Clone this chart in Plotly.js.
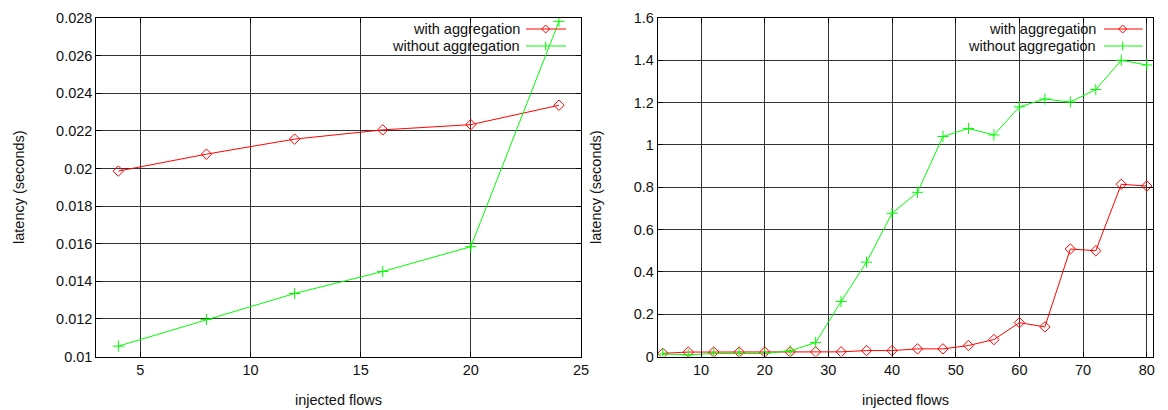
<!DOCTYPE html>
<html>
<head>
<meta charset="utf-8">
<script src="https://cdn.plot.ly/plotly-3.0.1.min.js"></script>
<style>html,body{margin:0;padding:0;background:#fff;}#chart{width:1168px;height:410px;}</style>
</head>
<body>
<div id="chart"></div>
<script>
// ---- Data: left panel ----
var leftFlows = [4, 8, 12, 16, 20, 24];
var leftWith = [0.01986, 0.02076, 0.02156, 0.02205, 0.02233, 0.02336];
var leftWithout = [0.01055, 0.01197, 0.01335, 0.01452, 0.01584, 0.02782];

// ---- Data: right panel ----
var rightFlows = [4, 8, 12, 16, 20, 24, 28, 32, 36, 40, 44, 48, 52, 56, 60, 64, 68, 72, 76, 80];
var rightWith = [0.015, 0.021, 0.021, 0.021, 0.021, 0.022, 0.022, 0.022, 0.028, 0.028,
                 0.036, 0.036, 0.052, 0.080, 0.160, 0.140, 0.508, 0.500, 0.814, 0.806];
var rightWithout = [0.012, 0.008, 0.014, 0.014, 0.014, 0.027, 0.066, 0.260, 0.446, 0.677,
                    0.776, 1.040, 1.078, 1.047, 1.180, 1.217, 1.203, 1.262, 1.400, 1.378];

// ---- Tick labels ----
var leftXTicks = [5, 10, 15, 20, 25];
var leftYTicks = [0.01, 0.012, 0.014, 0.016, 0.018, 0.02, 0.022, 0.024, 0.026, 0.028];
var leftYText = ["0.01", "0.012", "0.014", "0.016", "0.018", "0.02", "0.022", "0.024", "0.026", "0.028"];
var rightXTicks = [10, 20, 30, 40, 50, 60, 70, 80];
var rightYTicks = [0, 0.2, 0.4, 0.6, 0.8, 1, 1.2, 1.4, 1.6];
var rightYText = ["0", "0.2", "0.4", "0.6", "0.8", "1", "1.2", "1.4", "1.6"];

var seriesNames = ["with aggregation", "without aggregation"];
var xTitle = "injected flows";
var yTitle = "latency (seconds)";

var RED = "#ff0000", GREEN = "#00ff00";
var FONT = "Liberation Sans, Arial, sans-serif";
var FS = 14.5;
var W = 1168, H = 410;
function px(x) { return x / W; }
function py(y) { return (H - y) / H; }

var redMarker = {symbol: "diamond-open", size: 8, color: RED, line: {width: 1, color: RED}};
var greenMarker = {symbol: "cross-thin-open", size: 8, color: GREEN, line: {width: 1, color: GREEN}};

var traces = [
  {x: leftFlows, y: leftWith, xaxis: "x", yaxis: "y", mode: "lines+markers", line: {color: RED, width: 1}, marker: redMarker, name: seriesNames[0], showlegend: false},
  {x: leftFlows, y: leftWithout, xaxis: "x", yaxis: "y", mode: "lines+markers", line: {color: GREEN, width: 1}, marker: greenMarker, name: seriesNames[1], showlegend: false},
  {x: rightFlows, y: rightWith, xaxis: "x2", yaxis: "y2", mode: "lines+markers", line: {color: RED, width: 1}, marker: redMarker, name: seriesNames[0], showlegend: false},
  {x: rightFlows, y: rightWithout, xaxis: "x2", yaxis: "y2", mode: "lines+markers", line: {color: GREEN, width: 1}, marker: greenMarker, name: seriesNames[1], showlegend: false}
];

var GRID = "#333333";
function axisBase() {
  return {
    showgrid: true, gridcolor: GRID, gridwidth: 1,
    showline: true, linecolor: "#000", linewidth: 1, mirror: "ticks",
    ticks: "inside", ticklen: 5, tickcolor: "#000", tickwidth: 1,
    zeroline: false, tickmode: "array",
    tickfont: {family: FONT, size: FS, color: "#111"},
    fixedrange: true
  };
}

var plotTop = 18, plotBottom = 356.5;
var xa = Object.assign(axisBase(), {domain: [px(96.3), px(581)], range: [3, 25], tickvals: leftXTicks, anchor: "y"});
var ya = Object.assign(axisBase(), {domain: [py(plotBottom), py(plotTop)], range: [0.01, 0.028], tickvals: leftYTicks, ticktext: leftYText, anchor: "x"});
var xa2 = Object.assign(axisBase(), {domain: [px(657.7), px(1153.3)], range: [3.2, 81.03], tickvals: rightXTicks, anchor: "y2"});
var ya2 = Object.assign(axisBase(), {domain: [py(plotBottom), py(plotTop)], range: [0, 1.6], tickvals: rightYTicks, ticktext: rightYText, anchor: "x2"});

// Legend drawn manually (symbol to the right of the text, as in the original)
function legendShapes(lineX0, lineX1, markX, row1, row2) {
  var dx = 4 / W, dy = 4 / H;
  var mx = px(markX), y1 = py(row1), y2 = py(row2);
  return [
    {type: "line", xref: "paper", yref: "paper", x0: px(lineX0), x1: px(lineX1), y0: y1, y1: y1, line: {color: RED, width: 1}},
    {type: "path", xref: "paper", yref: "paper",
     path: "M" + (mx - dx) + "," + y1 + " L" + mx + "," + (y1 + dy) + " L" + (mx + dx) + "," + y1 + " L" + mx + "," + (y1 - dy) + " Z",
     line: {color: RED, width: 1}, fillcolor: "rgba(0,0,0,0)"},
    {type: "line", xref: "paper", yref: "paper", x0: px(lineX0), x1: px(lineX1), y0: y2, y1: y2, line: {color: GREEN, width: 1}},
    {type: "line", xref: "paper", yref: "paper", x0: mx, x1: mx, y0: y2 - dy * 1.1, y1: y2 + dy * 1.1, line: {color: GREEN, width: 1}}
  ];
}

var shapes = [
  {type: "rect", xref: "paper", yref: "paper", x0: px(356), x1: px(581), y0: py(56), y1: py(plotTop), fillcolor: "#fff", line: {width: 0}, layer: "between"},
  {type: "rect", xref: "paper", yref: "paper", x0: px(930), x1: px(1153.3), y0: py(56), y1: py(plotTop), fillcolor: "#fff", line: {width: 0}, layer: "between"}
].concat(legendShapes(526, 566, 545.7, 29, 46)).concat(legendShapes(1104, 1142.7, 1122.7, 29, 46));

function txt(text, x, y, xanchor, extra) {
  return Object.assign({text: text, xref: "paper", yref: "paper", x: x, y: y, xanchor: xanchor, yanchor: "middle",
    showarrow: false, font: {family: FONT, size: FS, color: "#111"}}, extra || {});
}

var annotations = [
  txt(seriesNames[0], px(521.7), py(29), "right"),
  txt(seriesNames[1], px(521.7), py(46), "right"),
  txt(seriesNames[0], px(1098.3), py(29), "right"),
  txt(seriesNames[1], px(1098.3), py(46), "right"),
  txt(xTitle, px(338.6), py(400), "center"),
  txt(xTitle, px(905.5), py(400), "center"),
  txt(yTitle, px(19), py(187), "center", {textangle: -90}),
  txt(yTitle, px(596), py(187), "center", {textangle: -90})
];

var layout = {
  width: W, height: H,
  margin: {l: 0, r: 0, t: 0, b: 0, pad: 0},
  paper_bgcolor: "#fff", plot_bgcolor: "#fff",
  showlegend: false,
  xaxis: xa, yaxis: ya, xaxis2: xa2, yaxis2: ya2,
  shapes: shapes,
  annotations: annotations,
  font: {family: FONT, size: FS, color: "#111"}
};

Plotly.newPlot("chart", traces, layout, {displayModeBar: false, staticPlot: true});
</script>
</body>
</html>
